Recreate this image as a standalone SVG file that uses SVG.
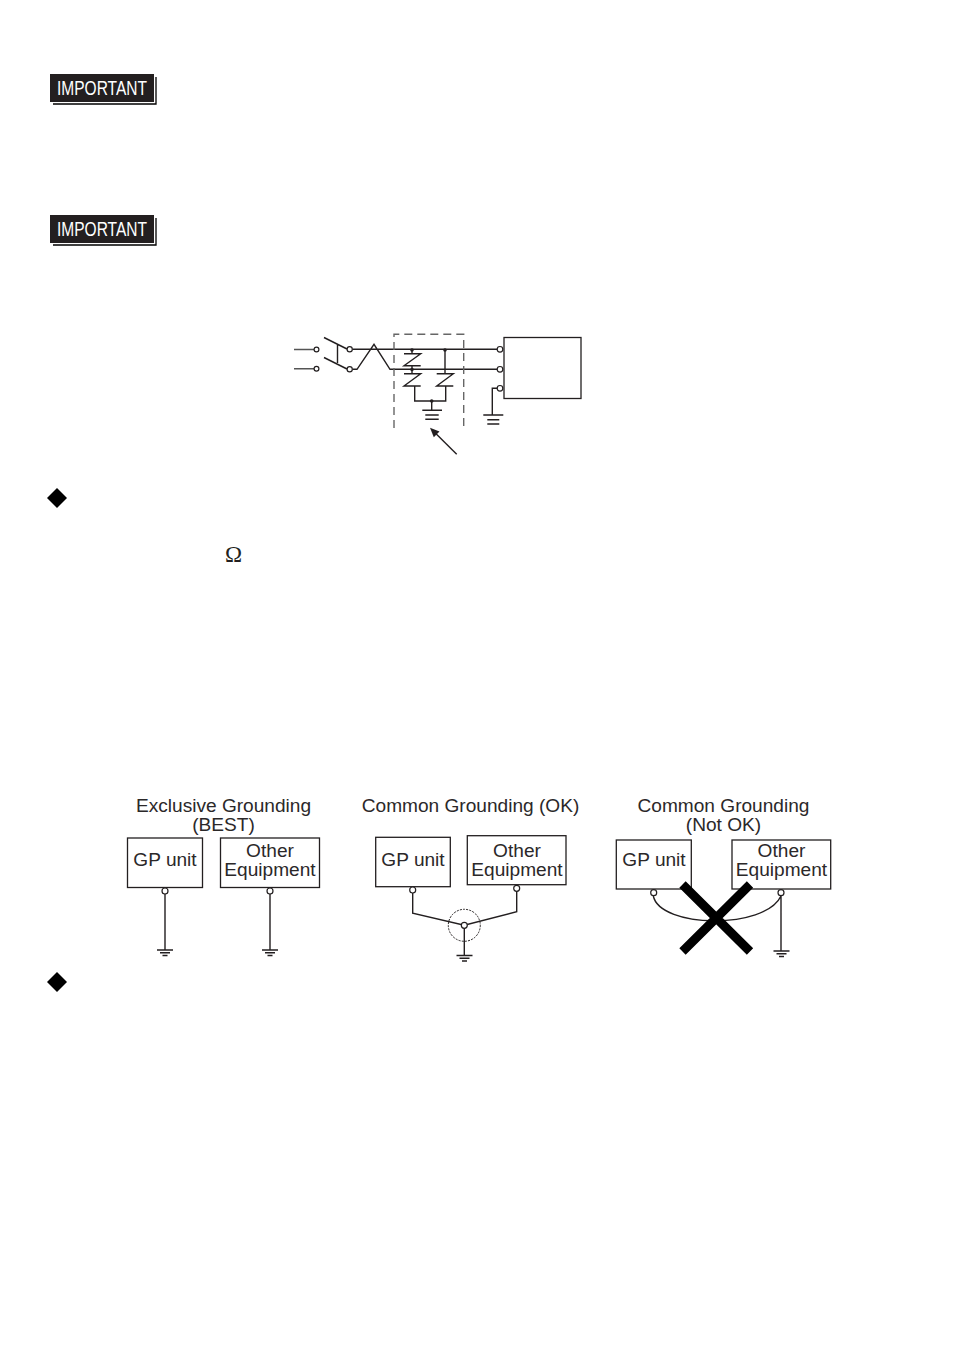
<svg xmlns="http://www.w3.org/2000/svg" width="954" height="1345" viewBox="0 0 954 1345">
<style>
.w{fill:none;stroke:#231f20;stroke-width:1.4}
.b{fill:#fff;stroke:#231f20;stroke-width:1.3}
.t{fill:#fff;stroke:#231f20;stroke-width:1.2}
.d{fill:#231f20}
.l{font-family:"Liberation Sans",Arial,sans-serif;font-size:19.1px;fill:#2b2829;text-anchor:middle}
.i{font-family:"Liberation Sans",Arial,sans-serif;font-size:20px;fill:#fff}
</style>
<defs>
<g id="imp">
<path d="M53 104H156V77" fill="none" stroke="#000" stroke-width="1.3"/>
<rect x="50" y="74" width="104" height="28" fill="#231f20"/>
</g>
<g id="gnd" class="w"><path d="M-8 0H8M-5 2.8H5M-2.5 5.5H2.5"/></g>
</defs>
<rect width="954" height="1345" fill="#fff"/>

<g id="important-1"><use href="#imp"/><text class="i" x="57" y="94.5" textLength="90" lengthAdjust="spacingAndGlyphs">IMPORTANT</text></g>
<g id="important-2"><use href="#imp" y="141"/><text class="i" x="57" y="235.5" textLength="90" lengthAdjust="spacingAndGlyphs">IMPORTANT</text></g>
<g id="bullet-1"><path d="M57 488L67 498L57 508L47 498Z" fill="#000"/></g>
<g id="bullet-2"><path d="M57 972L67 982L57 992L47 982Z" fill="#000"/></g>
<text id="ohm" x="225" y="561.5" font-family="'Liberation Serif','Times New Roman',serif" font-size="23px" fill="#231f20">Ω</text>

<g id="circuit-connectors" class="w">
<path d="M294 349.5H314M294 368.7H314" stroke="#555"/>
<path d="M324 337.5L347 349M324 357.5L347 369M337.5 344V363"/>
<path d="M352.5 349.3H497.5M352.5 369.3H357L374 344.3L390 369.3H497.5"/>
<path d="M394 428V334.3H463.7V428" stroke="#666" stroke-dasharray="8 5"/>
<path d="M412 349.3V353.7M404 353.7H420.7L404 365.7H420.7M412 365.7V373.7M404 373.7H420.7L404 386H420.7"/>
<path d="M445 349.3V373.7M436.7 373.7H453.3L436.7 386H453.3"/>
<path d="M414.7 386V401H445.7V386M431.7 401V410.3"/>
<path d="M422.3 410.3H442M425.3 415H438.7M425.3 419.3H438.7"/>
<path d="M498 388.3H492.3V415"/>
<path d="M483.3 415H503.3M487.3 419.7H499.3M487.3 424H499.3"/>
<path d="M456.7 454.3L433 430.7"/>
<path d="M430 427.7L439.5 431.5L433.8 437.2Z" fill="#231f20" stroke="none"/>
</g>
<g id="circuit-terminals">
<circle class="t" cx="316.5" cy="349.5" r="2.4"/><circle class="t" cx="316.5" cy="368.7" r="2.4"/>
<circle class="t" cx="349.7" cy="349.3" r="2.6"/><circle class="t" cx="349.7" cy="369.3" r="2.6"/>
<circle class="t" cx="500" cy="349.3" r="2.8"/><circle class="t" cx="500" cy="369.3" r="2.8"/><circle class="t" cx="500" cy="388.3" r="2.8"/>
<circle class="d" cx="412" cy="350" r="1.8"/><circle class="d" cx="445" cy="350" r="1.8"/><circle class="d" cx="412" cy="369.5" r="1.8"/><circle class="d" cx="431.7" cy="401" r="1.8"/>
</g>
<g id="device"><rect class="b" x="504" y="337.5" width="77" height="61"/></g>

<g id="best-title"><text class="l" x="223.5" y="812">Exclusive Grounding</text><text class="l" x="223.5" y="831">(BEST)</text></g>
<g id="ok-title"><text class="l" x="470.5" y="812">Common Grounding (OK)</text></g>
<g id="notok-title"><text class="l" x="723.5" y="812">Common Grounding</text><text class="l" x="723.5" y="831">(Not OK)</text></g>

<g id="connectors" class="w">
<path d="M165 894V950M270 894V950"/>
<use href="#gnd" x="165" y="950"/><use href="#gnd" x="270" y="950"/>
<path d="M412.7 893V913.3L464.3 925.3L516.7 911.7V891M464.3 925.3V955"/>
<use href="#gnd" x="464.5" y="955.5"/>
<circle cx="464.3" cy="925.3" r="16" stroke-dasharray="2 1.2" stroke-width="1"/>
<path d="M653.3 896C660 928 765 930 781 896M781 896V951"/>
<use href="#gnd" x="781.5" y="951"/>
</g>

<g id="gp-best"><rect class="b" x="127.5" y="838" width="75" height="49.5"/><text class="l" x="165" y="866">GP unit</text><circle class="t" cx="165" cy="891" r="3"/></g>
<g id="other-best"><rect class="b" x="220.5" y="838" width="99" height="49.5"/><text class="l" x="270" y="857">Other</text><text class="l" x="270" y="876">Equipment</text><circle class="t" cx="270" cy="891" r="3"/></g>
<g id="gp-ok"><rect class="b" x="375.7" y="837.3" width="74.6" height="49.4"/><text class="l" x="413" y="866">GP unit</text><circle class="t" cx="412.7" cy="890" r="3"/></g>
<g id="other-ok"><rect class="b" x="467.3" y="835.7" width="98.7" height="49"/><text class="l" x="517" y="857">Other</text><text class="l" x="517" y="876">Equipment</text><circle class="t" cx="516.7" cy="888.3" r="3"/></g>
<g id="ok-junction"><circle class="t" cx="464.3" cy="925.3" r="3"/></g>
<g id="gp-notok"><rect class="b" x="616.3" y="840" width="75" height="49"/><text class="l" x="654" y="866">GP unit</text><circle class="t" cx="653.7" cy="892.7" r="3"/></g>
<g id="other-notok"><rect class="b" x="732" y="840" width="98.7" height="49"/><text class="l" x="781.5" y="857">Other</text><text class="l" x="781.5" y="876">Equipment</text><circle class="t" cx="781" cy="892.7" r="3"/></g>
<g id="cross"><path d="M682.5 884.5L750 951.5M750 884.5L682.5 951.5" fill="none" stroke="#000" stroke-width="9"/></g>
</svg>
